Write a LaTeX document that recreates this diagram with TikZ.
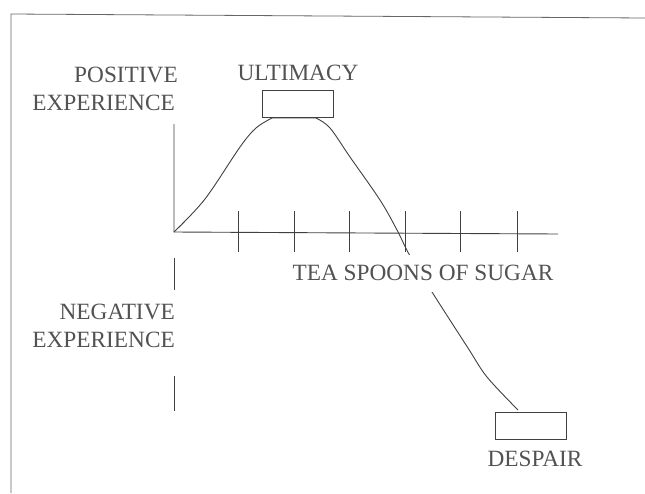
\documentclass[tikz,border=0pt]{standalone}
\usepackage{fontspec}
\setmainfont{Liberation Serif}
\begin{document}
\begin{tikzpicture}[x=1pt,y=-1pt,
  lbl/.style={text=black!68,font=\fontsize{23.3}{25}\selectfont,inner sep=0pt},
  ln/.style={draw=black!75,line width=0.9pt},
  boxst/.style={draw=black!75,line width=0.9pt,minimum width=71pt,minimum height=27pt,inner sep=0pt}]
\useasboundingbox (0,0) rectangle (645,493);
% frame
\coordinate (ftl) at (11,14);
\coordinate (ftr) at (645,18);
\coordinate (fbl) at (11,493);
\draw[draw=black!60,line width=0.8pt] (fbl) -- (ftl) -- (ftr);
% labels
\node[lbl,anchor=east] (pos) at (178,75) {POSITIVE};
\node[lbl,anchor=east] (posexp) at (175,103) {EXPERIENCE};
\node[lbl] (ult) at (298,73) {ULTIMACY};
\node[lbl,anchor=east] (neg) at (175,312) {NEGATIVE};
\node[lbl,anchor=east] (negexp) at (175,340) {EXPERIENCE};
\node[lbl] (desp) at (535,459) {DESPAIR};
% boxes
\node[boxst] (ubox) at (297.5,103.5) {};
\node[boxst] (dbox) at (531,425.5) {};
% axes
\coordinate (O) at (174,232);
\coordinate (ytop) at (174,124);
\coordinate (xend) at (558,234);
\draw[ln] (ytop) -- (O) -- (xend);
\foreach \x/\n in {238/a,294/b,349/c,405/d,460/e,517/f}{
  \coordinate (t\n1) at (\x,211);
  \coordinate (t\n2) at (\x,252);
  \draw[ln] (t\n1) -- (t\n2);
}
\coordinate (d1a) at (174,258);
\coordinate (d1b) at (174,290);
\coordinate (d2a) at (174,376);
\coordinate (d2b) at (174,411);
\draw[ln] (d1a) -- (d1b);
\draw[ln] (d2a) -- (d2b);
% curve
\draw[ln] plot[smooth,tension=0.55] coordinates {(174,232) (205,199) (240,147) (256,128) (272,118)}
  -- (316,118)
  plot[smooth,tension=0.55] coordinates {(316,118) (330,128) (350,157) (380,200) (397,230) (410,256) (432,292) (468,348) (487,377) (518,410)};
% x label with white background hiding the curve
\node[lbl,fill=white,minimum height=37pt] (tea) at (423,273) {TEA SPOONS OF SUGAR};
\end{tikzpicture}
\end{document}
